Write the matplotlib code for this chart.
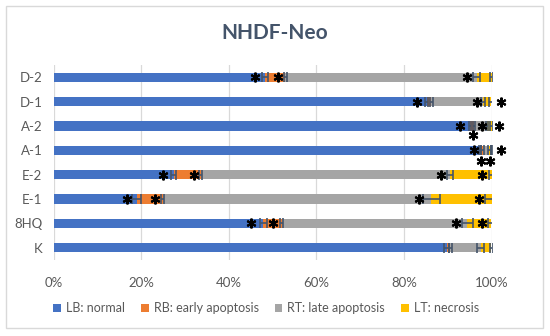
import matplotlib
matplotlib.use("Agg")
import matplotlib.pyplot as plt
from matplotlib.patches import Rectangle
import numpy as np

plt.rcParams['font.family'] = ['Lato', 'DejaVu Sans']

categories = ["K", "8HQ", "E-1", "E-2", "A-1", "A-2", "D-1", "D-2"]
series_names = ["LB: normal", "RB: early apoptosis", "RT: late apoptosis", "LT: necrosis"]
colors = ["#4472C4", "#ED7D31", "#A5A5A5", "#FFC000"]

lb_normal = [89.8, 47.9, 19.0, 27.4, 97.4, 95.1, 85.2, 48.3]
rb_early = [0.8, 4.2, 5.9, 6.2, 0.6, 0.9, 1.1, 4.6]
rt_late = [7.0, 42.4, 61.4, 56.9, 1.5, 3.0, 11.8, 43.7]
lt_necrosis = [2.4, 5.5, 13.7, 9.5, 0.5, 1.0, 1.9, 3.4]

err_lb = [0.6, 0.8, 1.0, 0.6, 0.3, 0.3, 0.4, 0.6]
err_rb = [0.3, 0.3, 0.3, 0.3, 0.3, 0.3, 0.4, 0.3]
err_rt = [0.8, 1.2, 2.0, 0.6, 0.3, 0.3, 0.5, 0.8]
err_lt = [0.3, 0.7, 1.5, 0.6, 0.2, 0.3, 0.5, 0.3]

# significance stars: (category, x position in %, vertical offset in category units)
star_cat = ["8HQ", "8HQ", "8HQ", "8HQ",
            "E-1", "E-1", "E-1", "E-1",
            "E-2", "E-2", "E-2", "E-2",
            "A-1", "A-1", "A-1", "A-1",
            "A-2", "A-2", "A-2", "A-2",
            "D-1", "D-1", "D-1",
            "D-2", "D-2", "D-2"]
star_x = [45.2, 50.2, 92.0, 97.9,
          16.7, 23.2, 83.4, 97.1,
          25.1, 32.1, 88.4, 97.9,
          96.0, 97.6, 99.6, 102.2,
          92.8, 95.8, 97.9, 101.8,
          83.1, 96.6, 102.2,
          46.1, 51.3, 94.3]
star_dy = [0, 0, 0, 0,
           0, 0, 0, 0,
           0, 0, 0, 0,
           0, -0.42, -0.42, 0,
           0, -0.38, 0, 0,
           0, 0, 0,
           0, 0, 0]

fig = plt.figure(figsize=(5.5, 3.36), dpi=100)
fig.patch.set_facecolor("white")
# outer frame
fig.patches.append(Rectangle((6/550, 1-328/336), (543-6)/550, (328-6)/336,
                             transform=fig.transFigure, fill=False,
                             edgecolor="#D9D9D9", linewidth=1.0))

ax = fig.add_axes([53.5/550, 1-260/336, 438/550, 195/336])
y = np.arange(len(categories))
left = np.zeros(len(categories))
series = [lb_normal, rb_early, rt_late, lt_necrosis]
errs = [err_lb, err_rb, err_rt, err_lt]
for vals, col, name in zip(series, colors, series_names):
    ax.barh(y, vals, left=left, height=0.38, color=col, label=name, zorder=2)
    left = left + np.array(vals)
left = np.zeros(len(categories))
for vals, e in zip(series, errs):
    ends = left + np.array(vals)
    ax.errorbar(ends, y, xerr=e, fmt="none", ecolor="#44546A",
                elinewidth=1.2, capsize=3.5, capthick=1.2, zorder=3)
    left = ends

for c, sx, dy in zip(star_cat, star_x, star_dy):
    yi = categories.index(c) + dy
    ax.plot(sx, yi, marker=(6, 2, 0), markersize=7, markeredgewidth=1.5,
            color="black", linestyle="none", zorder=4, clip_on=False)

ax.set_xlim(0, 100)
ax.set_ylim(-0.5, len(categories) - 0.5)
ax.set_yticks(y)
ax.set_yticklabels(categories)
ax.set_xticks([0, 20, 40, 60, 80, 100])
ax.set_xticklabels(["0%", "20%", "40%", "60%", "80%", "100%"])
ax.tick_params(axis="both", length=0, labelsize=9.5, colors="#595959")
ax.tick_params(axis="x", pad=12)
ax.tick_params(axis="y", pad=8)
ax.grid(axis="x", color="#D9D9D9", linewidth=0.9, zorder=0)
ax.set_axisbelow(True)
for s in ax.spines.values():
    s.set_visible(False)

fig.text(275/550, 1-33/336, "NHDF-Neo", ha="center", va="center",
         fontsize=15, fontweight="bold", color="#44546A")

handles, labels = ax.get_legend_handles_labels()
fig.legend(handles, labels, loc="center", bbox_to_anchor=(266/550, 1-308/336),
           ncol=4, frameon=False, fontsize=9, handlelength=0.6, handleheight=0.6,
           handletextpad=0.4, columnspacing=1.3, labelcolor="#595959")

fig.savefig("out.png", dpi=100, facecolor="white")
